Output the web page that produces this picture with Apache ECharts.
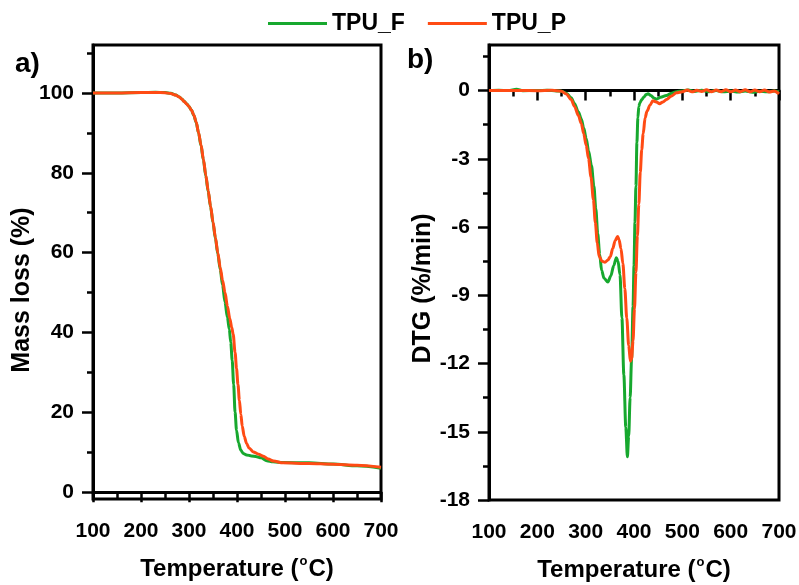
<!DOCTYPE html>
<html>
<head>
<meta charset="utf-8">
<script src="https://cdn.jsdelivr.net/npm/echarts@6/dist/echarts.min.js"></script>
<style>html,body{margin:0;padding:0;background:#fff}#c{width:799px;height:585px}</style>
</head>
<body>
<div id="c"></div>
<script>
// ---- data ----
const seriesNames = ['TPU_F', 'TPU_P'];
const xTicks = [100, 200, 300, 400, 500, 600, 700];
const massTicks = [0, 20, 40, 60, 80, 100];
const massMinor = [10, 30, 50, 70, 90, 110];
const dtgTicks = [-18, -15, -12, -9, -6, -3, 0];
const dtgMinor = [-16.5, -13.5, -10.5, -7.5, -4.5, -1.5, 1.5];

// TGA mass (%) vs temperature (°C)
const tgaF = [[100,99.95],[150,100],[200,100.1],[230,100.15],[250,100.1],[262,99.9],[272,99.5],[280,99.0],[285,98.5],[290,97.9],[295,97.3],[300,96.6],[305,95.7],[310,94.4],[315,92.6],[320,89.9],[325,86.8],[330,83.2],[335,79.2],[340,75.3],[345,71.4],[350,67.5],[355,63.6],[360,59.7],[365,55.8],[370,51.8],[375,47.6],[380,43.8],[384,40.8],[387,37.5],[390,33],[393,27],[396,20],[399,15.5],[403,12.4],[408,10.5],[413,9.7],[420,9.35],[430,9.1],[441,8.9],[450,8.6],[462,7.9],[475,7.6],[496,7.45],[550,7.35],[600,7.05],[650,6.6],[700,6.0]];
const tgaP = [[100,100],[150,100],[200,100.1],[230,100.1],[250,100.05],[262,99.85],[272,99.45],[280,98.95],[285,98.45],[290,97.85],[295,97.25],[300,96.6],[305,95.7],[310,94.5],[315,92.7],[320,90.0],[325,87.0],[330,83.4],[335,79.4],[340,75.5],[345,71.6],[350,67.7],[355,63.8],[360,60.0],[365,56.3],[370,53.0],[375,50.0],[380,46.6],[385,43.5],[389,41.3],[392,39.6],[396,35],[399,31],[402,27],[405,23],[408,19.5],[411,16.5],[415,14],[420,12.2],[425,11.1],[434,10.1],[445,9.5],[455,9.0],[465,8.3],[476,7.8],[496,7.35],[550,7.2],[600,7.0],[650,6.75],[700,6.25]];

// DTG (%/min) vs temperature (°C)
const dtgF = [[100,0],[120,0.01],[140,0],[157,0.05],[170,-0.01],[200,0],[220,0.01],[240,-0.02],[250,-0.03],[260,-0.12],[270,-0.32],[277,-0.58],[285,-0.95],[291,-1.25],[296,-1.65],[301,-2.1],[306,-2.65],[312,-3.3],[317,-4.2],[321,-5.2],[325,-6.3],[329,-7.2],[333,-7.9],[338,-8.25],[346,-8.42],[352,-8.15],[358,-7.7],[363.5,-7.35],[367,-7.5],[371,-8.1],[375,-10.0],[379,-12.5],[383,-14.8],[386.3,-16.1],[389,-15.2],[392,-13.5],[395,-11.8],[398,-9.5],[400,-7.7],[402,-5.8],[404,-4.2],[406,-2.3],[408,-1.2],[410,-0.7],[412,-0.55],[416,-0.4],[420,-0.3],[425,-0.18],[429,-0.14],[435,-0.22],[441,-0.33],[446,-0.38],[455,-0.3],[467,-0.22],[478,-0.12],[488,-0.05],[500,-0.02],[512,0.02],[525,-0.04],[540,0.01],[555,-0.05],[570,0],[585,-0.06],[600,-0.02],[615,-0.07],[630,-0.02],[645,-0.08],[660,-0.03],[675,-0.06],[690,-0.02],[700,-0.05]];
const dtgP = [[100,0],[130,0],[160,0],[200,-0.01],[230,0.01],[250,-0.03],[260,-0.15],[270,-0.4],[277,-0.7],[285,-1.1],[291,-1.45],[296,-1.9],[301,-2.4],[306,-3.0],[311,-3.8],[316,-4.8],[320,-5.8],[324,-6.7],[328,-7.3],[334,-7.5],[340,-7.55],[346,-7.45],[351,-7.3],[356,-6.95],[361,-6.6],[366,-6.42],[369,-6.55],[373,-6.95],[377,-7.6],[381,-8.7],[385,-10.0],[389,-11.2],[392.6,-11.9],[395,-11.8],[398,-11.0],[401,-9.6],[404,-8.0],[407,-6.4],[410,-5.0],[413,-3.6],[416,-2.6],[419,-1.9],[423,-1.2],[427,-0.9],[433,-0.65],[439,-0.45],[446,-0.5],[453,-0.58],[460,-0.5],[467,-0.4],[477,-0.25],[488,-0.1],[500,-0.05],[510,0.02],[520,-0.06],[530,0.01],[540,-0.04],[550,0.03],[560,-0.06],[570,0.02],[580,-0.05],[590,0.03],[600,-0.06],[610,0.02],[620,-0.05],[630,0.03],[640,-0.06],[650,0.02],[660,-0.05],[670,0.02],[680,-0.07],[690,-0.02],[700,-0.15]];

// ---- styling ----
const FONT = 'Liberation Sans, Arial, sans-serif';
const GREEN = '#17A82E';
const ORANGE = '#FF4B14';
const BLACK = '#000';

function xAxisFor(gi) {
  return {
    type: 'value', gridIndex: gi, min: 100, max: 700, interval: 100,
    name: 'Temperature ({sup|o}C)', nameLocation: 'middle', nameGap: 56,
    nameTextStyle: { fontFamily: FONT, fontWeight: 'bold', fontSize: 24, color: BLACK, lineHeight: 28,
      rich: { sup: { fontFamily: FONT, fontWeight: 'bold', fontSize: 13, color: BLACK, verticalAlign: 'top', lineHeight: 28, padding: [0, 1, 4, 1] } } },
    axisLine: { show: true, lineStyle: { color: BLACK, width: 3 } },
    axisTick: { show: true, inside: false, length: 10, lineStyle: { color: BLACK, width: 2.5 } },
    minorTick: { show: true, splitNumber: 2, length: 6, lineStyle: { color: BLACK, width: 2.5 } },
    axisLabel: { fontFamily: FONT, fontWeight: 'bold', fontSize: 21, color: BLACK, margin: 22 },
    splitLine: { show: false }, minorSplitLine: { show: false }
  };
}
function yMain(gi, min, max, ticks, name, gap, shift) {
  return {
    type: 'value', gridIndex: gi, min: min, max: max,
    name: name, nameLocation: 'middle', nameGap: gap,
    nameTextStyle: { fontFamily: FONT, fontWeight: 'bold', fontSize: 25, color: BLACK, padding: [0, shift, 0, 0] },
    axisLine: { show: true, lineStyle: { color: BLACK, width: 3 } },
    axisTick: { show: true, inside: false, length: 11, customValues: ticks, lineStyle: { color: BLACK, width: 2.5 } },
    axisLabel: { fontFamily: FONT, fontWeight: 'bold', fontSize: 21, color: BLACK, margin: 19, customValues: ticks },
    splitLine: { show: false }, minorTick: { show: false }
  };
}
function yMinor(gi, min, max, ticks) {
  return {
    type: 'value', gridIndex: gi, min: min, max: max, position: 'left',
    axisLine: { show: false },
    axisTick: { show: true, inside: false, length: 6, customValues: ticks, lineStyle: { color: BLACK, width: 2.5 } },
    axisLabel: { show: false },
    splitLine: { show: false }
  };
}
function line(name, color, data, xi, yi) {
  return {
    type: 'line', name: name, data: data, xAxisIndex: xi, yAxisIndex: yi,
    showSymbol: false, symbol: 'none', smooth: 0.3, smoothMonotone: 'x',
    lineStyle: { color: color, width: 3 }, itemStyle: { color: color }, z: 3
  };
}

const chart = echarts.init(document.getElementById('c'), null, { renderer: 'canvas' });
chart.setOption({
  animation: false,
  backgroundColor: '#fff',
  title: [
    { text: 'a)', left: 15, top: 50, padding: 0, textStyle: { fontFamily: FONT, fontWeight: 'bold', fontSize: 28, color: BLACK } },
    { text: 'b)', left: 407, top: 46, padding: 0, textStyle: { fontFamily: FONT, fontWeight: 'bold', fontSize: 28, color: BLACK } }
  ],
  legend: {
    data: seriesNames, left: 268, top: 12, padding: 0,
    icon: 'rect', itemWidth: 59, itemHeight: 3, itemGap: 23,
    textStyle: { fontFamily: FONT, fontWeight: 'bold', fontSize: 23, color: BLACK }
  },
  grid: [
    { left: 93, top: 45, width: 288, height: 454, outerBoundsMode: 'none', containLabel: false, show: true, borderColor: BLACK, borderWidth: 3, backgroundColor: 'transparent' },
    { left: 489, top: 45, width: 290, height: 455, outerBoundsMode: 'none', containLabel: false, show: true, borderColor: BLACK, borderWidth: 3, backgroundColor: 'transparent' }
  ],
  xAxis: [xAxisFor(0), xAxisFor(1)],
  yAxis: [
    yMain(0, -1.7, 112, massTicks, 'Mass loss (%)', 57, 36),
    yMinor(0, -1.7, 112, massMinor),
    yMain(1, -18, 2, dtgTicks, 'DTG (%/min)', 50, 32),
    yMinor(1, -18, 2, dtgMinor)
  ],
  series: [
    line(seriesNames[0], GREEN, tgaF, 0, 0),
    line(seriesNames[1], ORANGE, tgaP, 0, 0),
    line(seriesNames[0], GREEN, dtgF, 1, 2),
    line(seriesNames[1], ORANGE, dtgP, 1, 2)
  ]
});
</script>
</body>
</html>
